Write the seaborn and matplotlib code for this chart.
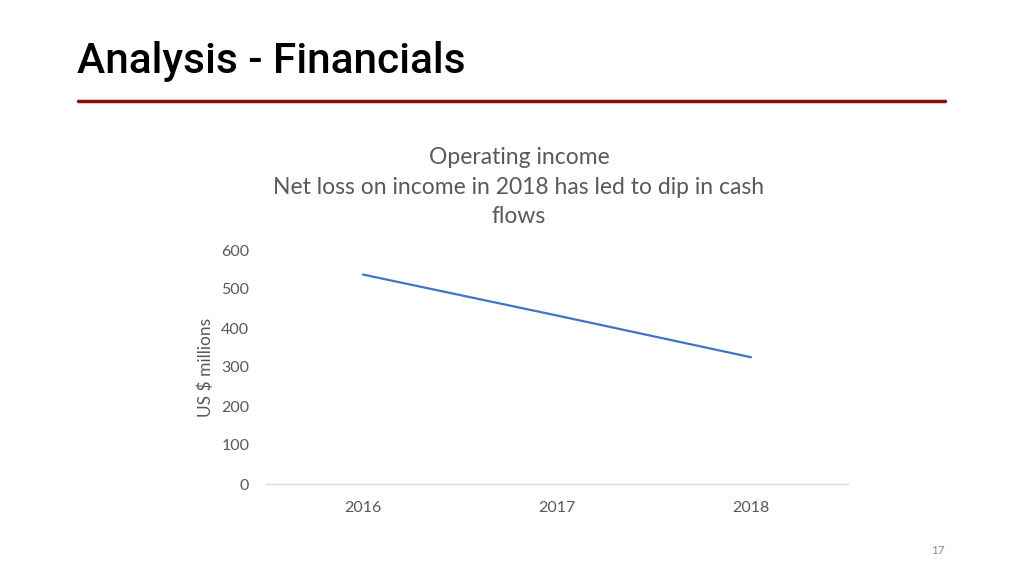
import pandas as pd
import matplotlib.pyplot as plt
import seaborn as sns

# Chart data
years = ["2016", "2017", "2018"]
operating_income = [537, 432, 325]
y_ticks = [0, 100, 200, 300, 400, 500, 600]

df = pd.DataFrame({"Year": years, "Operating income": operating_income})

sns.set_style("white")
plt.rcParams['font.family'] = ['Lato', 'DejaVu Sans']

fig = plt.figure(figsize=(10.24, 5.76), dpi=100)
fig.patch.set_facecolor("white")

# Slide header
fig.text(77 / 1024, 1 - 62 / 576, "Analysis - Financials", fontsize=30.5,
         family=['Roboto', 'DejaVu Sans'], fontweight="medium",
         color="black", va="center", ha="left")
fig.add_artist(plt.Line2D([78 / 1024, 945 / 1024], [1 - 101 / 576, 1 - 101 / 576],
                          color="#8B0A0A", linewidth=2.5, transform=fig.transFigure))

# Chart area
ax = fig.add_axes([266 / 1024, 1 - 484 / 576, 582 / 1024, 234 / 576])
sns.lineplot(data=df, x="Year", y="Operating income", sort=False,
             color="#4472C4", linewidth=1.6, ax=ax)

ax.set_xlim(-0.5, 2.5)
ax.set_ylim(0, 600)
ax.set_yticks(y_ticks)
ax.set_xlabel("")
ax.set_ylabel("US $ millions", fontsize=12.5, color="#595959", labelpad=5)
ax.tick_params(axis="both", length=0, labelsize=11.5, labelcolor="#595959")
ax.tick_params(axis="x", pad=12)
ax.tick_params(axis="y", pad=12)
for side in ["top", "right", "left"]:
    ax.spines[side].set_visible(False)
ax.spines["bottom"].set_color("#D9D9D9")
ax.spines["bottom"].set_linewidth(0.9)

fig.text(519 / 1024, 1 - 187 / 576,
         "Operating income\nNet loss on income in 2018 has led to dip in cash\nflows",
         fontsize=16.5, color="#595959", ha="center", va="center", linespacing=1.5)

# Page number
fig.text(938 / 1024, 1 - 550 / 576, "17", fontsize=8.5, color="#8C8C8C",
         ha="center", va="center")

fig.savefig("out.png", dpi=100, facecolor="white")
